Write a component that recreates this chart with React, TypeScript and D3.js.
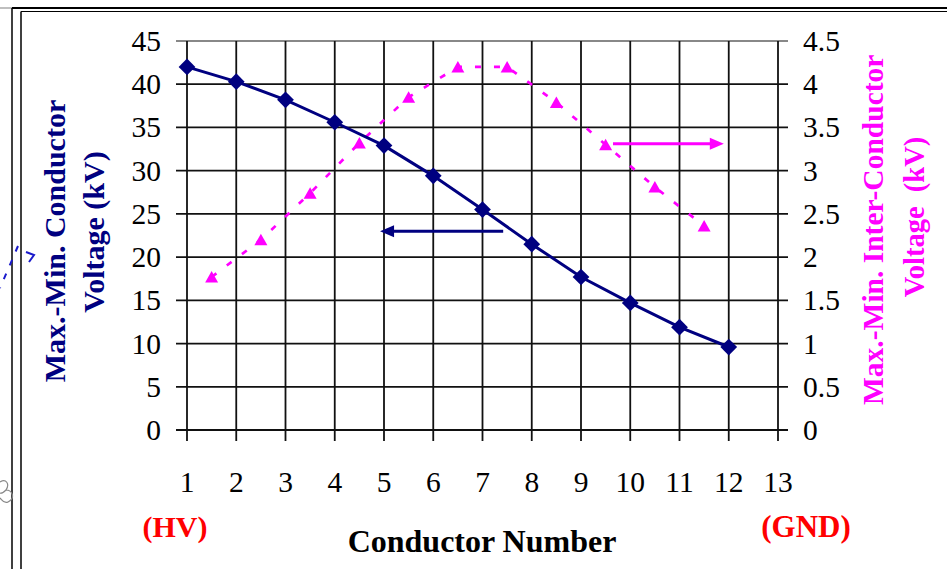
import React from "react";
import * as d3 from "d3";

const conductors = [1, 2, 3, 4, 5, 6, 7, 8, 9, 10, 11, 12];
const conductorVoltage = [42.0, 40.3, 38.2, 35.6, 32.9, 29.4, 25.5, 21.5, 17.7, 14.7, 11.9, 9.6];
const interPositions = [1.5, 2.5, 3.5, 4.5, 5.5, 6.5, 7.5, 8.5, 9.5, 10.5, 11.5];
const interVoltage = [1.77, 2.2, 2.74, 3.32, 3.85, 4.2, 4.2, 3.79, 3.3, 2.81, 2.36];
const xTicks = [1, 2, 3, 4, 5, 6, 7, 8, 9, 10, 11, 12, 13];
const leftTicks = [0, 5, 10, 15, 20, 25, 30, 35, 40, 45];
const rightTicks = [0, 0.5, 1, 1.5, 2, 2.5, 3, 3.5, 4, 4.5];
const rightTickLabels = ["0", "0.5", "1", "1.5", "2", "2.5", "3", "3.5", "4", "4.5"];
// annotation arrows in data coordinates
const blueArrow = { x1: 7.42, x2: 4.92, y: 23.0 };
const pinkArrow = { x1: 9.65, x2: 11.9, y: 3.31 };

const FONT = "'Liberation Serif', 'Times New Roman', serif";
const NAVY = "#000080";
const PINK = "#FF00FF";

export default function App() {
  const x = d3.scaleLinear().domain([1, 13]).range([187, 778]);
  const yL = d3.scaleLinear().domain([0, 45]).range([430, 41]);
  const yR = d3.scaleLinear().domain([0, 4.5]).range([430, 41]);

  const blueLine = d3
    .line<number>()
    .x((_, i) => x(conductors[i]))
    .y((d) => yL(d))(conductorVoltage) as string;
  const pinkLine = d3
    .line<number>()
    .x((_, i) => x(interPositions[i]))
    .y((d) => yR(d))(interVoltage) as string;

  const diamond = d3.symbol().type(d3.symbolSquare).size(140)() as string;
  const tri = (cx: number, cy: number) =>
    `M${cx - 6.5},${cy + 5.5}L${cx + 6.5},${cy + 5.5}L${cx},${cy - 6}Z`;

  const bx1 = x(blueArrow.x1), bx2 = x(blueArrow.x2), by = yL(blueArrow.y);
  const px1 = x(pinkArrow.x1), px2 = x(pinkArrow.x2), py = yR(pinkArrow.y);

  return (
    <svg
      width={947}
      height={569}
      style={{ position: "absolute", left: 0, top: 0, background: "#fff" }}
    >
      {/* frame */}
      <line x1={0} x2={12} y1={8} y2={8} stroke="#aaa" strokeWidth={1.5} />
      <line x1={12} x2={947} y1={8} y2={8} stroke="#000" strokeWidth={2} />
      <line x1={21} x2={947} y1={11.5} y2={11.5} stroke="#000" strokeWidth={1.2} />
      <line x1={12} x2={12} y1={8} y2={569} stroke="#000" strokeWidth={1.5} />
      <line x1={21} x2={21} y1={11.5} y2={569} stroke="#000" strokeWidth={1.5} />
      {/* stray marks at left edge */}
      <path d="M18,246 L0,288" stroke="#1a1acc" strokeWidth={2} strokeDasharray="6,9" fill="none" />
      <path d="M26,252 L34,255 L29,262" stroke="#1a1acc" strokeWidth={2} fill="none" />
      <path d="M0,482 C6,478 10,484 6,490 C12,490 16,498 8,502 C4,504 2,500 0,498 M6,490 C4,492 2,494 0,493"
        stroke="#888" strokeWidth={1.2} fill="none" />

      {/* grid horizontal */}
      {leftTicks.map((t) => (
        <line key={"h" + t} x1={176} x2={788} y1={yL(t)} y2={yL(t)}
          stroke={t === 45 ? "#888" : "#111"} strokeWidth={1.8} />
      ))}
      {/* grid vertical */}
      {xTicks.map((t) => (
        <line key={"v" + t} x1={x(t)} x2={x(t)} y1={41} y2={441} stroke="#111" strokeWidth={1.8} />
      ))}

      {/* left tick labels */}
      {leftTicks.map((t) => (
        <text key={"l" + t} x={161} y={yL(t) + 10} textAnchor="end"
          fontFamily={FONT} fontSize={29.5} fill="#000">{t}</text>
      ))}
      {/* right tick labels */}
      {rightTicks.map((t, i) => (
        <text key={"r" + t} x={803} y={yR(t) + 10} textAnchor="start"
          fontFamily={FONT} fontSize={29.5} fill="#000">{rightTickLabels[i]}</text>
      ))}
      {/* x tick labels */}
      {xTicks.map((t) => (
        <text key={"x" + t} x={x(t)} y={492} textAnchor="middle"
          fontFamily={FONT} fontSize={29.5} fill="#000">{t}</text>
      ))}

      {/* pink dashed series */}
      <path d={pinkLine} fill="none" stroke={PINK} strokeWidth={2.7} strokeDasharray="6,13" />
      {interPositions.map((p, i) => (
        <path key={"t" + i} d={tri(x(p), yR(interVoltage[i]))} fill={PINK} />
      ))}

      {/* blue series */}
      <path d={blueLine} fill="none" stroke={NAVY} strokeWidth={3} />
      {conductors.map((c, i) => (
        <path key={"d" + i} d={diamond}
          transform={`translate(${x(c)},${yL(conductorVoltage[i])}) rotate(45)`} fill={NAVY} />
      ))}

      {/* arrows */}
      <line x1={bx1} x2={bx2 + 12} y1={by} y2={by} stroke={NAVY} strokeWidth={3} />
      <path d={`M${bx2},${by}L${bx2 + 14},${by - 6}L${bx2 + 14},${by + 6}Z`} fill={NAVY} />
      <line x1={px1} x2={px2 - 12} y1={py} y2={py} stroke={PINK} strokeWidth={3} />
      <path d={`M${px2},${py}L${px2 - 14},${py - 6}L${px2 - 14},${py + 6}Z`} fill={PINK} />

      {/* left axis title */}
      <g transform="translate(65,241) rotate(-90)">
        <text x={0} y={0} textAnchor="middle" fontFamily={FONT} fontWeight="bold"
          fontSize={30} fill={NAVY}>Max.-Min. Conductor</text>
      </g>
      <g transform="translate(104,232) rotate(-90)">
        <text x={0} y={0} textAnchor="middle" fontFamily={FONT} fontWeight="bold"
          fontSize={30} fill={NAVY}>Voltage (kV)</text>
      </g>

      {/* right axis title */}
      <g transform="translate(883,405) rotate(-90)">
        <text x={0} y={0} textAnchor="start" fontFamily={FONT} fontWeight="bold"
          fontSize={29.5} fill={PINK}>Max.-Min. Inter-Conductor</text>
      </g>
      <g transform="translate(924,217) rotate(-90)">
        <text x={0} y={0} textAnchor="middle" fontFamily={FONT} fontWeight="bold"
          fontSize={28.5} fill={PINK} style={{ whiteSpace: "pre" }}>{"Voltage  (kV)"}</text>
      </g>

      {/* x axis annotations */}
      <text x={175} y={537} textAnchor="middle" fontFamily={FONT} fontWeight="bold"
        fontSize={30} fill="#FF0000">(HV)</text>
      <text x={806} y={537} textAnchor="middle" fontFamily={FONT} fontWeight="bold"
        fontSize={31} fill="#FF0000">(GND)</text>
      <text x={482} y={552} textAnchor="middle" fontFamily={FONT} fontWeight="bold"
        fontSize={32} fill="#000">Conductor Number</text>
    </svg>
  );
}
